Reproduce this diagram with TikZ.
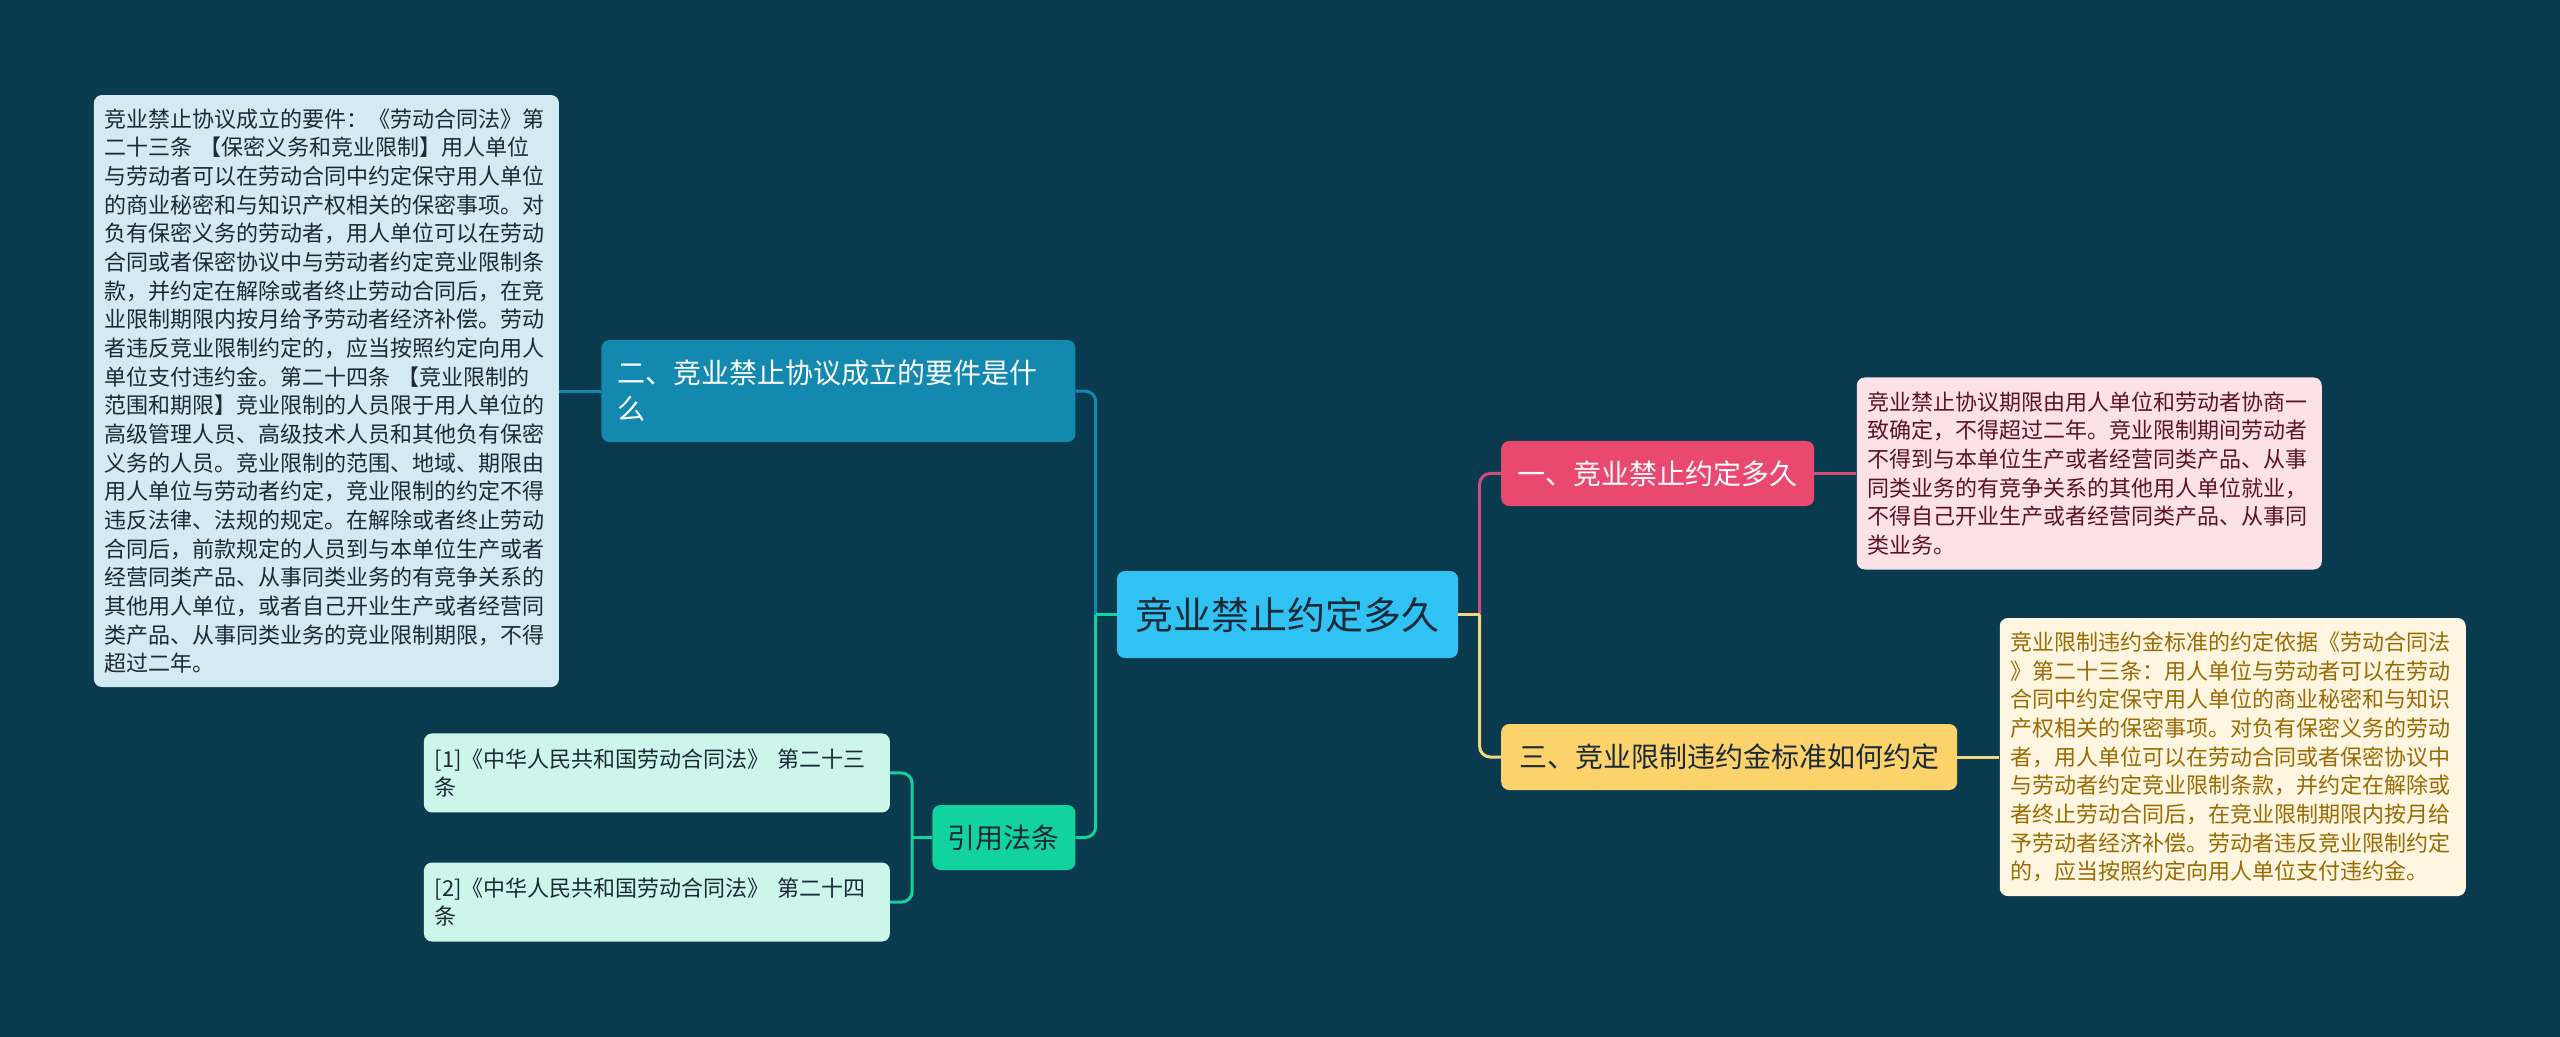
\documentclass[tikz,border=0pt]{standalone}
\usepackage{fontspec}
\setmainfont{Noto Sans CJK SC}
\setsansfont{Noto Sans CJK SC}
\usetikzlibrary{positioning, calc}
\definecolor{BgColor}{HTML}{093A4D}
\definecolor{TopicColor}{HTML}{30C2F2}
\definecolor{TextDark}{HTML}{1B2A36}
\definecolor{PinkColor}{HTML}{E9486F}
\definecolor{PinkLine}{HTML}{CF4F7A}
\definecolor{PinkLeaf}{HTML}{FCE1E7}
\definecolor{PinkText}{HTML}{5C1424}
\definecolor{YellowColor}{HTML}{FCD36B}
\definecolor{YellowLine}{HTML}{F3D77E}
\definecolor{YellowLeaf}{HTML}{FEF6E0}
\definecolor{YellowText}{HTML}{9A6A04}
\definecolor{BlueColor}{HTML}{1489B0}
\definecolor{BlueLeaf}{HTML}{D3EAF2}
\definecolor{GreenColor}{HTML}{12D3A0}
\definecolor{GreenLeaf}{HTML}{CDF6EA}

\begin{document}
\begin{tikzpicture}[
    x=0.75pt, y=-0.75pt,
    node distance=31.5pt,
    box/.style={rectangle, rounded corners=6pt, inner xsep=0pt, inner ysep=0pt, font=\sffamily, text=TextDark},
    topic/.style={box, fill=TopicColor, minimum width=255.75pt, minimum height=65.25pt, font=\sffamily\fontsize{28.5}{34}\selectfont},
    sub/.style={box, minimum height=48.75pt, font=\sffamily\fontsize{21}{27}\selectfont},
    leaf/.style={box, inner xsep=8pt, align=left, font=\sffamily\fontsize{16.5}{21.5}\selectfont},
    lnk/.style={line width=2.25pt, rounded corners=8pt}
  ]
    \fill[BgColor] (0,0) rectangle (2560,1037);

    \node[topic] (root) at (1287.5,614.5) {竞业禁止约定多久};
    \node[sub, fill=PinkColor, text=white, minimum width=234.75pt, right=32pt of root, yshift=105.75pt] (q1) {一、竞业禁止约定多久};
    \node[sub, fill=YellowColor, minimum width=342pt, minimum height=49.5pt, right=32pt of root, yshift=-106.9pt] (q3) {三、竞业限制违约金标准如何约定};
    \node[sub, fill=BlueColor, text=white, minimum height=76.5pt, inner xsep=12pt, text width=331.5pt, align=left, left=30.75pt of root, yshift=167.6pt] (q2) {二、竞业禁止协议成立的要件是什\\么};
    \node[sub, fill=GreenColor, minimum width=107.25pt, left=30.75pt of root, yshift=-167.25pt] (cite) {引用法条};

    \node[leaf, fill=PinkLeaf, text=PinkText, text width=332.75pt, minimum height=144pt, right=of q1] (a1) {竞业禁止协议期限由用人单位和劳动者协商一\\致确定，不得超过二年。竞业限制期间劳动者\\不得到与本单位生产或者经营同类产品、从事\\同类业务的有竞争关系的其他用人单位就业，\\不得自己开业生产或者经营同类产品、从事同\\类业务。};
    \node[leaf, fill=YellowLeaf, text=YellowText, text width=333.5pt, minimum height=208.5pt, right=of q3] (a3) {竞业限制违约金标准的约定依据《劳动合同法\\》第二十三条：用人单位与劳动者可以在劳动\\合同中约定保守用人单位的商业秘密和与知识\\产权相关的保密事项。对负有保密义务的劳动\\者，用人单位可以在劳动合同或者保密协议中\\与劳动者约定竞业限制条款，并约定在解除或\\者终止劳动合同后，在竞业限制期限内按月给\\予劳动者经济补偿。劳动者违反竞业限制约定\\的，应当按照约定向用人单位支付违约金。};
    \node[leaf, fill=BlueLeaf, text width=332.75pt, minimum height=444pt, left=of q2] (a2) {竞业禁止协议成立的要件：《劳动合同法》第\\二十三条 【保密义务和竞业限制】用人单位\\与劳动者可以在劳动合同中约定保守用人单位\\的商业秘密和与知识产权相关的保密事项。对\\负有保密义务的劳动者，用人单位可以在劳动\\合同或者保密协议中与劳动者约定竞业限制条\\款，并约定在解除或者终止劳动合同后，在竞\\业限制期限内按月给予劳动者经济补偿。劳动\\者违反竞业限制约定的，应当按照约定向用人\\单位支付违约金。第二十四条 【竞业限制的\\范围和期限】竞业限制的人员限于用人单位的\\高级管理人员、高级技术人员和其他负有保密\\义务的人员。竞业限制的范围、地域、期限由\\用人单位与劳动者约定，竞业限制的约定不得\\违反法律、法规的规定。在解除或者终止劳动\\合同后，前款规定的人员到与本单位生产或者\\经营同类产品、从事同类业务的有竞争关系的\\其他用人单位，或者自己开业生产或者经营同\\类产品、从事同类业务的竞业限制期限，不得\\超过二年。};
    \node[leaf, fill=GreenLeaf, text width=333.5pt, minimum height=59.25pt, left=of cite, yshift=48.4pt] (r1) {[1]《中华人民共和国劳动合同法》 第二十三\\条};
    \node[leaf, fill=GreenLeaf, text width=333.5pt, minimum height=59.25pt, left=of cite, yshift=-48.4pt] (r2) {[2]《中华人民共和国劳动合同法》 第二十四\\条};

    % junctions
    \coordinate (jl) at ($(root.west)+(-15.75pt,0)$);
    \coordinate (jr) at ($(root.east)+(16pt,0)$);
    \coordinate (jc) at ($(cite.west)+(-15pt,0)$);

    \draw[lnk, BlueColor] (jl) |- (q2.east);
    \draw[lnk, GreenColor] (jl) |- (cite.east);
    \draw[line width=2.25pt, GreenColor] (root.west) -- (jl);
    \draw[lnk, PinkLine] (jr) |- (q1.west);
    \draw[lnk, YellowLine] (jr) |- (q3.west);
    \draw[line width=2.25pt, YellowLine] (root.east) -- (jr);
    \draw[lnk, GreenColor] (jc) |- (r1.east);
    \draw[lnk, GreenColor] (jc) |- (r2.east);
    \draw[line width=2.25pt, GreenColor] (cite.west) -- (jc);

    \draw[lnk, PinkLine] (q1.east) -- (a1.west);
    \draw[lnk, YellowLine] (q3.east) -- (a3.west);
    \draw[lnk, BlueColor] (q2.west) -- (a2.east);
\end{tikzpicture}
\end{document}
